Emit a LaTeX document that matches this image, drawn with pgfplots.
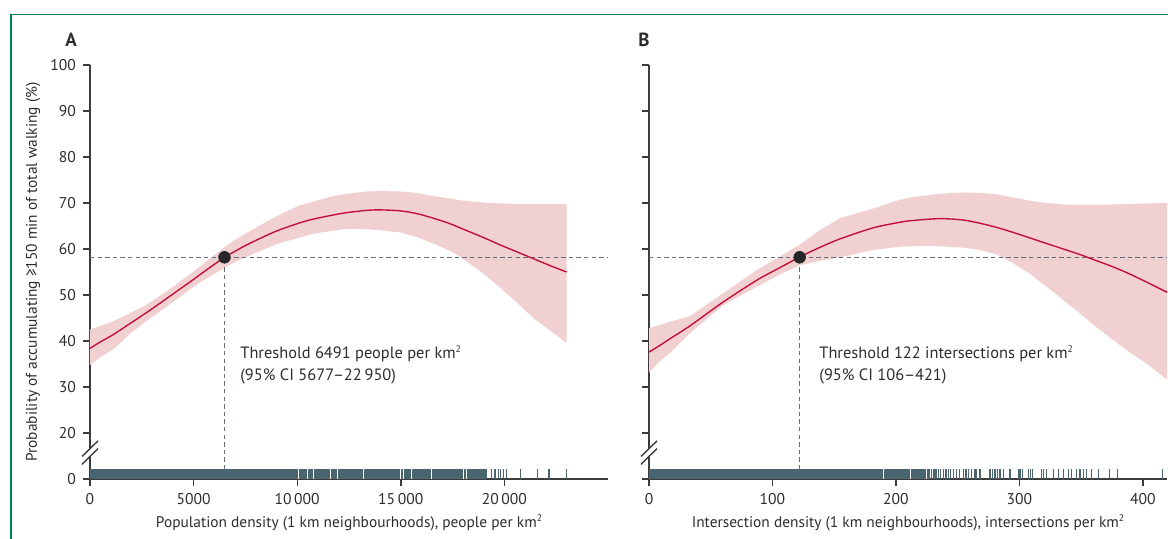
\documentclass[border=0pt]{standalone}
\usepackage{fontspec}
\setmainfont{PT Sans}
\usepackage{pgfplots}
\usepackage{pgfplotstable}
\pgfplotsset{compat=1.18}
\definecolor{rug}{RGB}{74,101,112}
\definecolor{crv}{RGB}{196,16,60}
\definecolor{band}{RGB}{240,208,208}
\definecolor{dsh}{RGB}{95,112,122}
\definecolor{axc}{RGB}{60,60,60}
\definecolor{txt}{RGB}{45,45,45}
\definecolor{frame}{RGB}{0,128,80}
\newcommand{\sq}{\raisebox{0.8ex}{\fontsize{4.8}{5}\selectfont 2}}

% Panel A: estimate
\pgfplotstableread{
x y
0 38.4
500 39.8
1127 41.4
2000 44.0
2737 46.2
3500 48.6
4344 51.3
5000 53.4
5700 55.7
6491 58.2
7000 59.5
7563 60.9
8540 63.0
9170 64.2
10135 65.7
10777 66.5
11744 67.4
12387 67.9
13353 68.4
14000 68.5
14961 68.3
15766 67.7
16570 66.7
17374 65.5
17857 64.6
18983 62.5
19788 60.9
20592 59.4
21396 57.9
22200 56.4
23005 55.0
}\curveA
% Panel A: 95% CI band (upper limit left to right, then lower limit right to left)
\pgfplotstableread{
x y
0 42.5
500 43.3
1127 44.3
2000 46.2
2737 47.9
3500 50.2
4344 52.9
5000 55.1
5700 57.6
6491 60.4
7000 62.0
7563 63.5
8540 66.0
9170 67.5
10135 69.5
10777 70.3
11744 71.5
12387 72.0
13353 72.5
14000 72.6
14961 72.5
15766 72.2
16570 71.5
17374 71.0
17857 70.6
18983 70.1
19788 69.9
20592 69.8
21396 69.8
22200 69.8
23005 69.8
23005 39.6
22200 42.3
21396 45.0
20592 48.4
19788 51.6
18983 54.7
17857 58.3
17374 59.6
16570 61.2
15766 62.6
14961 63.6
14000 64.1
13353 64.3
12387 64.4
11744 64.0
10777 63.3
10135 62.5
9170 61.3
8540 60.2
7563 58.3
7000 57.2
6491 55.9
5700 53.8
5000 51.8
4344 49.6
3500 46.8
2737 44.4
2000 41.8
1127 38.2
500 36.5
0 34.8
}\bandA

% Panel B: estimate
\pgfplotstableread{
x y
0 37.6
8 38.9
17 40.5
33.2 43.3
60.2 48.5
87.2 53.2
105 55.8
122.3 58.3
138 60.3
154.7 62.2
181.6 64.6
203 65.8
213.8 66.2
235.6 66.6
254.3 66.3
268 65.6
281.5 64.7
295 63.6
308.5 62.4
322 61.2
335.5 60.0
349 58.8
362 57.5
376 56.1
389 54.6
403 52.8
419.5 50.6
}\curveB
% Panel B: 95% CI band
\pgfplotstableread{
x y
0 42.8
8 43.4
17 44.2
33.2 45.4
60.2 50.4
87.2 55.4
105 58.2
122.3 61.0
138 64.0
154.7 66.7
181.6 68.8
203 70.7
213.8 71.3
235.6 72.0
254.3 72.3
268 72.2
281.5 71.9
295 71.2
308.5 70.5
322 70.0
335.5 69.7
349 69.6
362 69.6
376 69.7
389 69.8
403 69.9
419.5 70.0
419.5 31.6
403 35.1
389 37.6
376 40.2
362 43.1
349 46.0
335.5 48.9
322 51.8
308.5 54.6
295 56.9
281.5 58.8
268 59.8
254.3 60.3
235.6 60.6
213.8 60.6
203 60.5
181.6 59.8
154.7 58.2
138 57.4
122.3 56.5
105 54.3
87.2 51.8
60.2 47.8
33.2 41.7
17 37.4
8 35.4
0 33.1
}\bandB

\pgfplotsset{
  panel/.style={
    scale only axis, width=259pt, height=207pt,
    anchor=south west,
    ymin=10, ymax=100,
    axis x line=bottom, axis y line=left,
    axis line style={-, draw=axc, line width=0.7pt},
    tick style={draw=axc, line width=0.7pt},
    tick align=outside, major tick length=3.5pt,
    ytick={10,20,30,40,50,60,70,80,90,100},
    scaled x ticks=false,
    tick label style={font=\fontsize{7.8}{9}\selectfont, text=txt},
    label style={font=\fontsize{7.7}{9}\selectfont, text=txt},
    /pgf/number format/assume math mode=true,
    /pgf/number format/1000 sep={\,},
    /pgf/number format/min exponent for 1000 sep=4,
    xlabel style={at={(axis description cs:0.5,-0.106)}, anchor=center},
    clip=false,
  },
  rugmark/.style={only marks, mark=|, mark size=2.5pt, mark options={draw=rug, line width=0.7pt}},
  rugwhite/.style={only marks, mark=|, mark size=2.5pt, mark options={draw=white, line width=0.3pt}},
  dashl/.style={draw=dsh, line width=0.6pt, dash pattern=on 2.2pt off 1.6pt},
  curve/.style={crv, line width=0.7pt, smooth, tension=0.5},
  bandst/.style={fill=band, draw=none},
}

\begin{document}
\begin{tikzpicture}
\useasboundingbox (0,0) rectangle (584pt,-269.5pt);
\draw[frame, line width=0.7pt] (5.5pt,-300pt) -- (5.5pt,-7.2pt) -- (600pt,-7.2pt);

% ---------------- Panel A
\begin{axis}[panel, at={(45pt,-239.5pt)},
  xmin=0, xmax=25000,
  xtick={0,5000,10000,15000,20000},
  yticklabels={0,20,30,40,50,60,70,80,90,100},
  xlabel={Population density (1 km neighbourhoods), people per km\sq},
  ylabel={Probability of accumulating ≥150 min of total walking (\%)},
  ylabel style={at={(axis description cs:-0.110,0.5)}, anchor=center},
]
\addplot[bandst] table {\bandA};
\addplot[dashl] coordinates {(0,58.2) (25000,58.2)};
\addplot[dashl] coordinates {(6491,12.1) (6491,58.2)};
\addplot[curve] table {\curveA};
\addplot[only marks, mark=*, mark size=2.9pt, mark options={fill=black!85, draw=black!85}] coordinates {(6491,58.2)};
% rug
\addplot[fill=rug, draw=none] coordinates {(0,10) (19140,10) (19140,12.1) (0,12.1)};
\addplot[rugwhite] coordinates {(10040,11.05) (10470,11.05) (10760,11.05) (11580,11.05) (11930,11.05) (13180,11.05) (14960,11.05) (15120,11.05) (15520,11.05) (16490,11.05) (18020,11.05) (18180,11.05)};
\addplot[rugmark] coordinates {(19390,11.05) (19550,11.05) (19710,11.05) (19820,11.05) (19950,11.05) (20110,11.05) (20780,11.05) (21590,11.05) (22150,11.05) (23000,11.05)};
% axis break
\fill[white] ([xshift=-4pt]axis cs:0,14.9) -- ([xshift=4pt]axis cs:0,18.3) -- ([xshift=4pt]axis cs:0,16.6) -- ([xshift=-4pt]axis cs:0,13.2) -- cycle;
\draw[axc, line width=0.7pt] ([xshift=-4pt]axis cs:0,14.9) -- ([xshift=4pt]axis cs:0,18.3);
\draw[axc, line width=0.7pt] ([xshift=-4pt]axis cs:0,13.2) -- ([xshift=4pt]axis cs:0,16.6);
\end{axis}

% ---------------- Panel B
\begin{axis}[panel, at={(324.5pt,-239.5pt)},
  xmin=0, xmax=419.5,
  xtick={0,100,200,300,400},
  yticklabels={},
  xlabel={Intersection density (1 km neighbourhoods), intersections per km\sq},
]
\addplot[bandst] table {\bandB};
\addplot[dashl] coordinates {(0,58.2) (419.5,58.2)};
\addplot[dashl] coordinates {(122,12.1) (122,58.2)};
\addplot[curve] table {\curveB};
\addplot[only marks, mark=*, mark size=2.9pt, mark options={fill=black!85, draw=black!85}] coordinates {(122,58.2)};
% rug
\addplot[fill=rug, draw=none] coordinates {(0,10) (227.5,10) (227.5,12.1) (0,12.1)};
\addplot[rugwhite] coordinates {(189.5,11.05) (211.3,11.05) (224.8,11.05)};
\addplot[rugmark] coordinates {(228.9,11.05) (230.8,11.05) (232.4,11.05) (234.3,11.05) (236.2,11.05) (238.3,11.05) (240.5,11.05) (242.4,11.05) (244.3,11.05) (246.4,11.05) (249.1,11.05) (251.3,11.05) (254.5,11.05) (256.7,11.05) (258.6,11.05) (261.3,11.05) (264.0,11.05) (265.3,11.05) (268.0,11.05) (276.1,11.05) (278.3,11.05) (280.2,11.05) (282.0,11.05) (284.2,11.05) (286.9,11.05) (292.3,11.05) (299.0,11.05) (300.4,11.05) (302.3,11.05) (307.1,11.05) (309.1,11.05) (310.7,11.05) (318.0,11.05) (319.3,11.05) (322.0,11.05) (327.4,11.05) (331.4,11.05) (335.5,11.05) (339.5,11.05) (342.3,11.05) (346.3,11.05) (349.0,11.05) (351.7,11.05) (354.4,11.05) (358.5,11.05) (363.8,11.05) (372.8,11.05) (379.2,11.05) (416.0,11.05)};
% axis break
\fill[white] ([xshift=-4pt]axis cs:0,14.9) -- ([xshift=4pt]axis cs:0,18.3) -- ([xshift=4pt]axis cs:0,16.6) -- ([xshift=-4pt]axis cs:0,13.2) -- cycle;
\draw[axc, line width=0.7pt] ([xshift=-4pt]axis cs:0,14.9) -- ([xshift=4pt]axis cs:0,18.3);
\draw[axc, line width=0.7pt] ([xshift=-4pt]axis cs:0,13.2) -- ([xshift=4pt]axis cs:0,16.6);
\end{axis}

% panel letters and annotations
\node[font=\fontsize{9.5}{11}\selectfont\bfseries, text=txt] at (35.5pt,-20pt) {A};
\node[font=\fontsize{9.5}{11}\selectfont\bfseries, text=txt] at (322pt,-20pt) {B};
\node[anchor=west, align=left, font=\fontsize{8.2}{11}\selectfont, text=txt, inner sep=0pt] at (120pt,-182.5pt) {Threshold 6491 people per km\sq\\(95\% CI 5677–22\,950)};
\node[anchor=west, align=left, font=\fontsize{8.2}{11}\selectfont, text=txt, inner sep=0pt] at (409.5pt,-182.5pt) {Threshold 122 intersections per km\sq\\(95\% CI 106–421)};
\end{tikzpicture}
\end{document}
